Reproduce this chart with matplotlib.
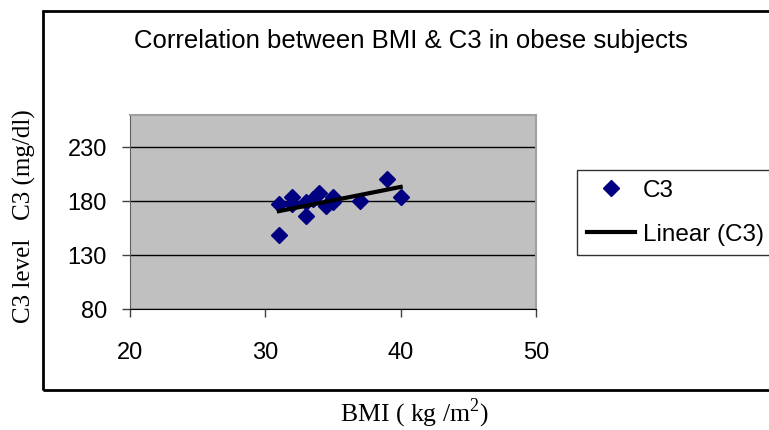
import numpy as np
import matplotlib
matplotlib.use("Agg")
import matplotlib.pyplot as plt
from matplotlib.patches import Rectangle

# BMI (kg/m^2) and C3 (mg/dl)
bmi = [31, 31, 32, 32, 33, 33, 33.5, 34, 34.5, 35, 35, 37, 39, 40]
c3 = [177, 149, 184, 177, 166, 179, 182, 188, 176, 184, 179, 180, 201, 184]
x_ticks = [20, 30, 40, 50]
y_ticks = [80, 130, 180, 230]

W, H = 769, 430
fig = plt.figure(figsize=(W / 100, H / 100), dpi=100)
sans = ["Liberation Sans", "DejaVu Sans"]
serif = ["Liberation Serif", "DejaVu Serif"]

# outer chart frame (right side runs off the image)
fig.patches.append(Rectangle((43 / W, 1 - 390 / H), 1.0, (390 - 11) / H,
                             transform=fig.transFigure, fill=False,
                             edgecolor="black", lw=2, clip_on=False))

ax = fig.add_axes([130 / W, 1 - 309 / H, (536 - 130) / W, (309 - 115) / H])
ax.set_facecolor("#C0C0C0")
ax.set_xlim(20, 50)
ax.set_ylim(80, 260)
ax.set_xticks(x_ticks)
ax.set_yticks(y_ticks)
ax.grid(axis="y", color="black", lw=1)
ax.set_axisbelow(True)
for s in ["top", "right"]:
    ax.spines[s].set_color("#A0A0A0")
    ax.spines[s].set_linewidth(1.5)
ax.spines["left"].set_color("#606060")
ax.spines["bottom"].set_color("black")
ax.tick_params(direction="out", length=6, width=1, color="#404040")
ax.tick_params(axis="y", pad=10.5)
ax.tick_params(axis="x", pad=18)
for lab in ax.get_xticklabels() + ax.get_yticklabels():
    lab.set_family(sans)
    lab.set_fontsize(17)

ax.plot(bmi, c3, "D", color="#000080", ms=8.5, mec="#000080",
        label="C3", zorder=3, clip_on=False)
k, b = np.polyfit(bmi, c3, 1)
xs = np.array([min(bmi), max(bmi)])
ax.plot(xs, k * xs + b, color="black", lw=3, label="Linear (C3)", zorder=4)

fig.text(411 / W, 1 - 41 / H, "Correlation between BMI & C3 in obese subjects",
         ha="center", va="center", family=sans, fontsize=18.5)
fig.text(24 / W, 1 - 216 / H, "C3 level   C3 (mg/dl)", rotation=90,
         ha="center", va="center", family=serif, fontsize=18)
fig.text(414 / W, 1 - 413 / H, "BMI ( kg /m$^\\mathregular{2}$)",
         ha="center", va="center", family=serif, fontsize=18.5)

leg = fig.legend(loc="upper left", bbox_to_anchor=(577 / W, 1 - 170 / H),
                 prop={"family": sans, "size": 17.5}, frameon=True,
                 fancybox=False, edgecolor="black", handlelength=2.0,
                 handletextpad=0.3, borderpad=0.4, labelspacing=0.9,
                 borderaxespad=0)
leg.get_frame().set_linewidth(1)

fig.savefig("out.png", dpi=100)
